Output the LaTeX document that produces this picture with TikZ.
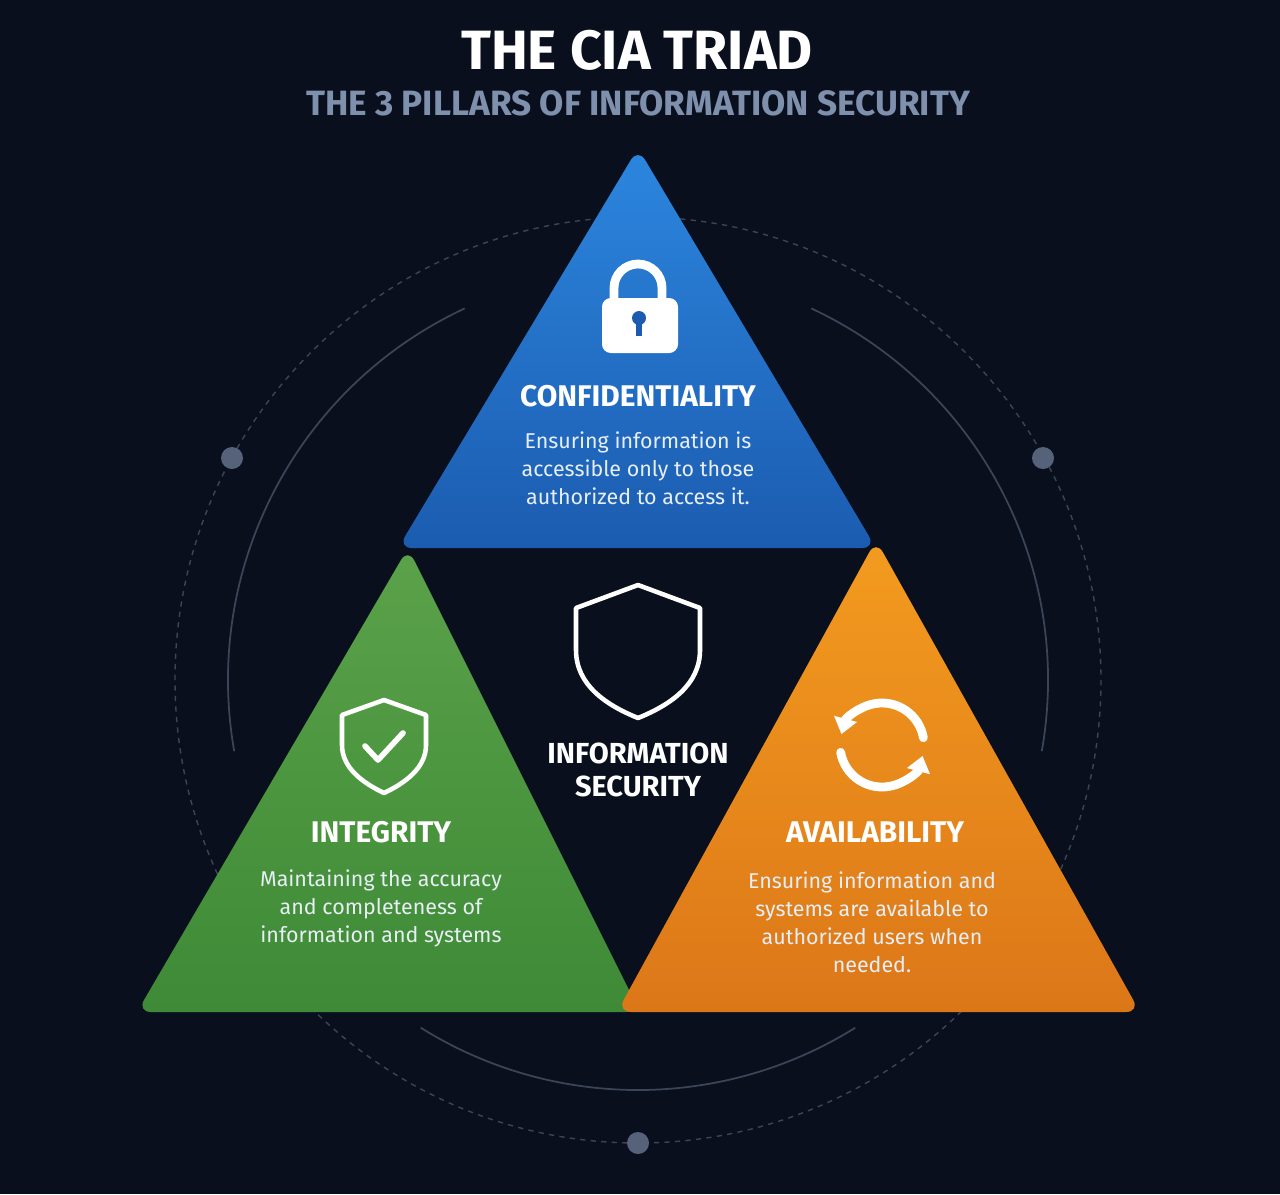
\documentclass[tikz,border=0pt]{standalone}
\usepackage{fontspec}
\setmainfont{Fira Sans}
\usetikzlibrary{arrows.meta}
\definecolor{bgnavy}{HTML}{0A0F1E}
\definecolor{subgrey}{HTML}{7F90AD}
\definecolor{ringgrey}{HTML}{3A4558}
\definecolor{dotgrey}{HTML}{56627A}
\definecolor{bluetop}{HTML}{2C86DE}
\definecolor{bluebot}{HTML}{1B5CB0}
\definecolor{greentop}{HTML}{5BA24A}
\definecolor{greenbot}{HTML}{3E8A36}
\definecolor{orangetop}{HTML}{F39B1F}
\definecolor{orangebot}{HTML}{DC7718}
\definecolor{desctext}{HTML}{E8EEF6}
\tikzset{
  heading/.style={text=white,font=\bfseries\fontsize{17}{19}\selectfont},
  desc/.style={text=desctext,align=center,font=\fontsize{12.2}{15.9}\selectfont},
  icon/.style={draw=white,line width=2.6pt,line join=round,line cap=round},
}
\begin{document}
\begin{tikzpicture}[x=0.02cm,y=-0.02cm]
	% background
	\fill[bgnavy] (0,0) rectangle (1280,1194);
	\useasboundingbox (0,0) rectangle (1280,1194);
	% dashed ring and inner arcs
	\draw[ringgrey,dashed,line width=0.8pt] (638,680) circle [radius=463];
	\draw[ringgrey,line width=1pt] (638,680) ++(-115:410) arc[start angle=-115,end angle=-190,radius=410];
	\draw[ringgrey,line width=1pt] (638,680) ++(-65:410) arc[start angle=-65,end angle=10,radius=410];
	\draw[ringgrey,line width=1pt] (638,680) ++(58:410) arc[start angle=58,end angle=122,radius=410];
	% ring dots
	\foreach \px/\py in {232/458,1043/458,638/1143}
	  \fill[dotgrey] (\px,\py) circle [radius=11];
	% title
	\node[text=white,font=\bfseries\fontsize{31.5}{34}\selectfont] (title) at (637,50) {THE CIA TRIAD};
	\node[text=subgrey,font=\bfseries\fontsize{20}{24}\selectfont] (subtitle) at (638,103) {THE 3 PILLARS OF INFORMATION SECURITY};
	% triangles
	\shade[top color=bluetop,bottom color=bluebot,rounded corners=8pt] (638,148) -- (876,548) -- (398,548) -- cycle;
	\shade[top color=greentop,bottom color=greenbot,rounded corners=8pt] (408,548) -- (640,1012) -- (137,1012) -- cycle;
	\shade[top color=orangetop,bottom color=orangebot,rounded corners=8pt] (876,540) -- (1140,1012) -- (617,1012) -- cycle;
	% lock
	\fill[white,rounded corners=5pt] (602,298) rectangle (678,353);
	\draw[white,line width=5pt] (614,300) -- (614,288) arc[start angle=180,end angle=360,radius=24] -- (662,300);
	\fill[bluebot] (639,318) circle [radius=7];
	\fill[bluebot] (636,320) rectangle (642,336);
	% centre shield
	\draw[icon] (638,585) -- (700,608) -- (700,650) .. controls (700,685) and (670,705) .. (638,718)
	  .. controls (606,705) and (576,685) .. (576,650) -- (576,608) -- cycle;
	% integrity shield with check
	\draw[icon] (384,700) -- (426,715) -- (426,745) .. controls (426,768) and (405,783) .. (384,793)
	  .. controls (363,783) and (342,768) .. (342,745) -- (342,715) -- cycle;
	\draw[icon,line width=3.2pt] (365,746) -- (378,760) -- (403,733);
	% availability arrows
	\draw[icon,line width=5pt,-{Triangle[length=9pt,width=13pt]}] (882,745) ++(170:42) arc[start angle=170,end angle=15,radius=42];
	\draw[icon,line width=5pt,-{Triangle[length=9pt,width=13pt]}] (882,745) ++(-10:42) arc[start angle=-10,end angle=-165,radius=42];
	% labels
	\node[heading] (conf) at (638,396) {CONFIDENTIALITY};
	\node[desc] (confdesc) at (638,468) {Ensuring information is\\accessible only to those\\authorized to access it.};
	\node[heading] (integ) at (381,832) {INTEGRITY};
	\node[desc] (integdesc) at (381,908) {Maintaining the accuracy\\and completeness of\\information and systems};
	\node[heading] (avail) at (875,832) {AVAILABILITY};
	\node[desc] (availdesc) at (872,922) {Ensuring information and\\systems are available to\\authorized users when\\needed.};
	\node[heading,align=center,font=\bfseries\fontsize{16.5}{19}\selectfont] (infosec) at (638,770) {INFORMATION\\SECURITY};
\end{tikzpicture}
\end{document}
